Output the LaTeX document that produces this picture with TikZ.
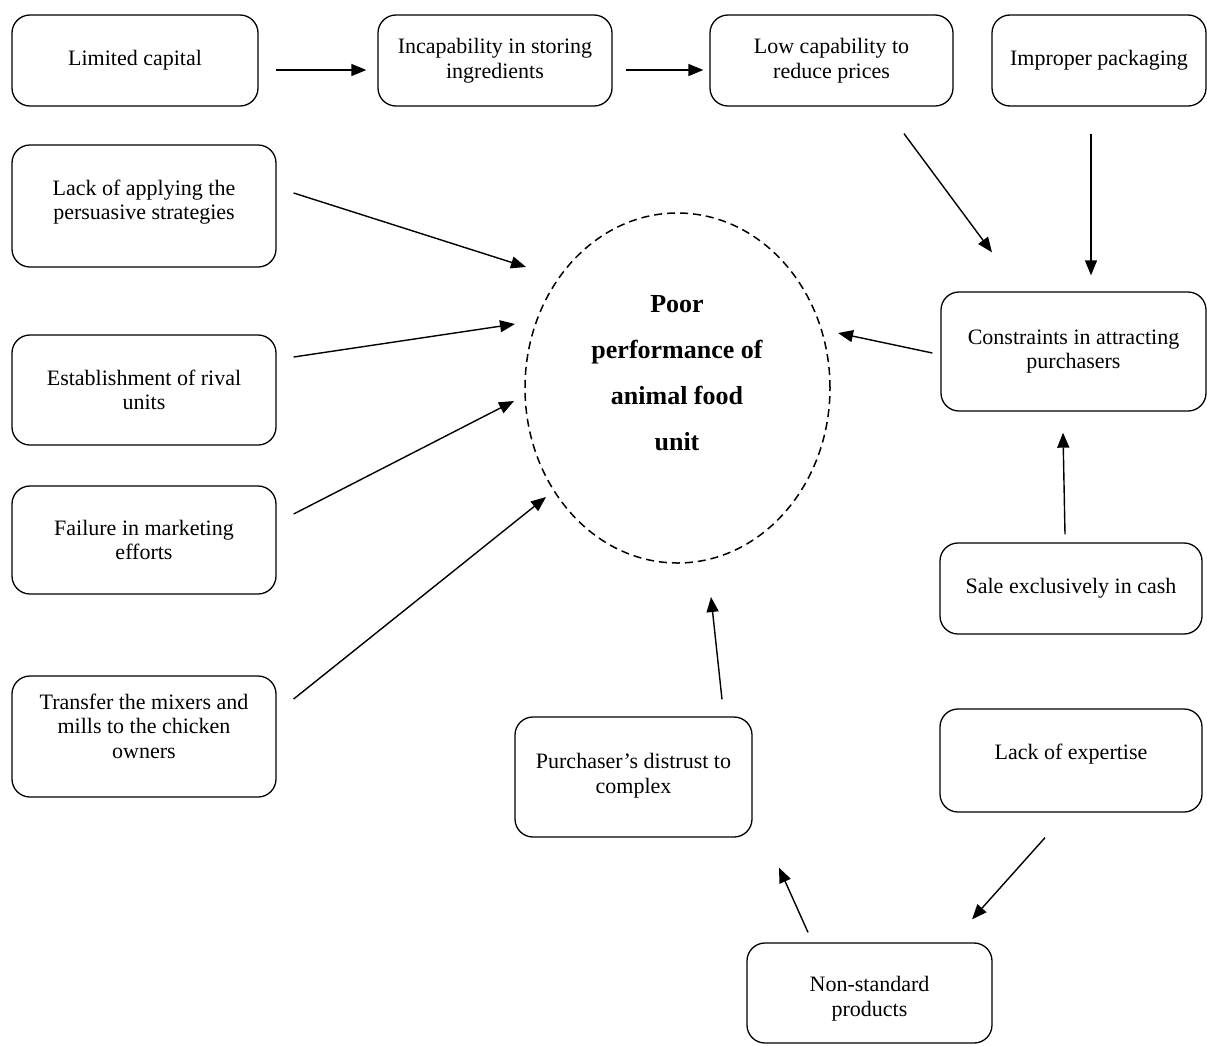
\documentclass[tikz,border=0pt]{standalone}
\usepackage{fontspec}
\setmainfont{Liberation Serif}
\usetikzlibrary{arrows.meta,shapes.geometric,calc}
\begin{document}
\begin{tikzpicture}[x=1pt,y=-1pt,
  box/.style={draw, line width=1.3pt, rounded corners=18pt, align=center, inner sep=0pt,
    font=\fontsize{22}{24.5}\selectfont},
  arr/.style={line width=1.4pt, -{Triangle[length=15pt,width=12pt]}},
  goalshape/.style={ellipse, draw, line width=1.5pt, dash pattern=on 8pt off 5pt,
    minimum width=305pt, minimum height=350pt, inner sep=0pt},
  goaltext/.style={align=center, inner sep=0pt, font=\bfseries\fontsize{26}{46}\selectfont}
]
\useasboundingbox (0,0) rectangle (1207,1045);

% top row
\node[box, minimum width=246pt, minimum height=91pt] (lc) at (135,60.5) {Limited capital};
\node[box, minimum width=234pt, minimum height=91pt] (inc) at (495,60.5) {Incapability in storing\\ingredients};
\node[box, minimum width=243pt, minimum height=91pt] (low) at (831.5,60.5) {Low capability to\\reduce prices};
\node[box, minimum width=214pt, minimum height=91pt] (imp) at (1099,60.5) {Improper packaging};

% left column
\node[box, minimum width=264pt, minimum height=122pt] (lack) at (144,206) {Lack of applying the\\persuasive strategies\\[-11.5pt]\mbox{}};
\node[box, minimum width=264pt, minimum height=110pt] (est) at (144,390) {Establishment of rival\\units};
\node[box, minimum width=264pt, minimum height=108pt] (fail) at (144,540) {Failure in marketing\\efforts};
\node[box, minimum width=264pt, minimum height=121pt] (trans) at (144,736.5) {Transfer the mixers and\\mills to the chicken\\owners\\[-3.5pt]\mbox{}};

% right column
\node[box, minimum width=265pt, minimum height=119pt] (cons) at (1073.5,351.5) {Constraints in attracting\\purchasers};
\node[box, minimum width=262pt, minimum height=91pt] (sale) at (1071,588.5) {Sale exclusively in cash};
\node[box, minimum width=262pt, minimum height=103pt, text depth=17pt] (exp) at (1071,760.5) {Lack of expertise};

% bottom
\node[box, minimum width=237pt, minimum height=120pt] (pur) at (633.5,777) {Purchaser’s distrust to\\complex\\[-17pt]\mbox{}};
\node[box, minimum width=245pt, minimum height=100pt] (non) at (869.5,993) {\mbox{}\\[2.5pt]Non-standard\\products};

% centre
\node[goalshape] (goal) at (677.5,388) {};
\node[goaltext] (goaltxt) at (677,373) {Poor\\performance of\\animal food\\unit};

% arrows
\draw[arr] ($(lc.east)+(17,9.5)$) -- ($(inc.west)+(-11,9.5)$);
\draw[arr] ($(inc.east)+(13,9.5)$) -- ($(low.west)+(-6,9.5)$);
\draw[arr] ($(low.south)+(72.5,27)$) -- ($(cons.north)+(-81.5,-39)$);
\draw[arr] ($(imp.south)+(-8,27)$) -- ($(cons.north)+(17.5,-16)$);

\draw[arr] ($(lack.east)+(17,-13)$) -- ($(goal.center)+(-151.5,-121)$);
\draw[arr] ($(est.east)+(17,-33)$) -- ($(goal.center)+(-162.5,-64)$);
\draw[arr] ($(fail.east)+(17,-26)$) -- ($(goal.center)+(-163.5,13)$);
\draw[arr] ($(trans.east)+(17,-37.5)$) -- ($(goal.center)+(-131.5,109)$);

\draw[arr] ($(cons.west)+(-8,1.5)$) -- ($(goal.center)+(160.5,-55)$);
\draw[arr] ($(sale.north)+(-6,-8)$) -- ($(cons.south)+(-10.5,21)$);
\draw[arr] ($(exp.south)+(-26,25)$) -- ($(non.north)+(102.5,-23)$);
\draw[arr] ($(non.north)+(-61.5,-10)$) -- ($(pur.south)+(145.5,30)$);
\draw[arr] ($(pur.north)+(88.5,-17)$) -- ($(goal.center)+(33.5,209)$);
\end{tikzpicture}
\end{document}
